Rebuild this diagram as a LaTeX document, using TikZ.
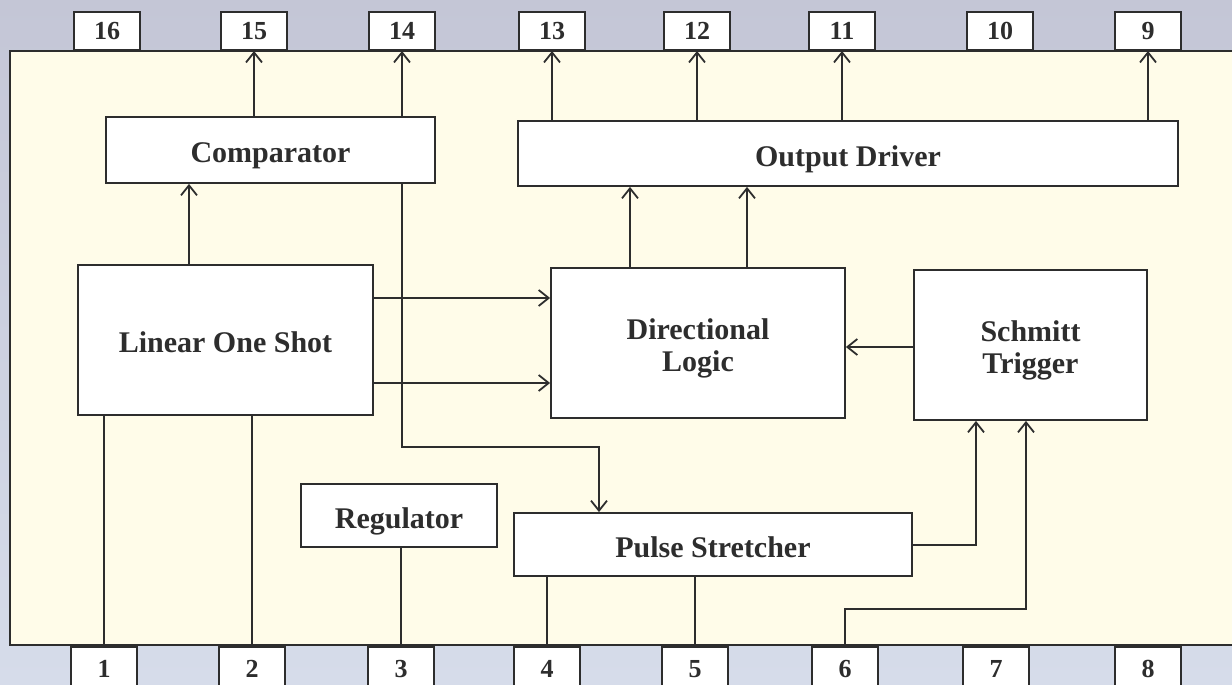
\documentclass[tikz,border=0pt]{standalone}
\usepackage{fontspec}
\setmainfont{Liberation Serif}
\usetikzlibrary{arrows.meta}
\definecolor{bgtop}{RGB}{196,198,214}
\definecolor{bgbot}{RGB}{214,220,234}
\definecolor{cream}{RGB}{255,252,233}
\definecolor{ink}{RGB}{45,45,45}
\tikzset{
  blk/.style={draw=ink, line width=1.8pt, fill=white, inner sep=0pt,
    font=\bfseries\fontsize{30}{32}\selectfont, text=ink, align=center,
    text height=25pt, text depth=0pt},
  blktwo/.style={blk, text height=56pt},
  pintop/.style={draw=ink, line width=1.6pt, fill=white, inner sep=0pt,
    minimum width=66pt, minimum height=38pt, anchor=south,
    font=\bfseries\fontsize{26}{28}\selectfont, text=ink},
  pinbot/.style={draw=ink, line width=1.6pt, fill=white, inner sep=0pt,
    minimum width=66pt, minimum height=44pt, anchor=north,
    font=\bfseries\fontsize{26}{28}\selectfont, text=ink},
  wire/.style={draw=ink, line width=2pt},
  arr/.style={wire, -{Straight Barb[length=10pt,width=16pt,line width=1.8pt]}}
}
\begin{document}
\begin{tikzpicture}[x=1pt,y=-1pt]
\clip (0,0) rectangle (1232,685);
\shade[top color=bgtop, bottom color=bgbot] (0,0) rectangle (1232,685);
% chip body
\draw[draw=ink, line width=2pt, fill=cream] (1260,51) -- (10,51) -- (10,645) -- (1260,645);
% top pins
\node[pintop] (p16) at (107,51) {16};
\node[pintop] (p15) at (254,51) {15};
\node[pintop] (p14) at (402,51) {14};
\node[pintop] (p13) at (552,51) {13};
\node[pintop] (p12) at (697,51) {12};
\node[pintop] (p11) at (842,51) {11};
\node[pintop] (p10) at (1000,51) {10};
\node[pintop] (p9) at (1148,51) {9};
% bottom pins
\node[pinbot] (p1) at (104,646) {1};
\node[pinbot] (p2) at (252,646) {2};
\node[pinbot] (p3) at (401,646) {3};
\node[pinbot] (p4) at (547,646) {4};
\node[pinbot] (p5) at (695,646) {5};
\node[pinbot] (p6) at (845,646) {6};
\node[pinbot] (p7) at (996,646) {7};
\node[pinbot] (p8) at (1148,646) {8};
% blocks
\node[blk, minimum width=329pt, minimum height=66pt] (comp) at (270.5,150) {Comparator};
\node[blk, minimum width=660pt, minimum height=65pt] (od) at (848,153.5) {Output Driver};
\node[blk, minimum width=295pt, minimum height=150pt] (los) at (225.5,340) {Linear One Shot};
\node[blktwo, minimum width=294pt, minimum height=150pt] (dl) at (698,343) {Directional\\Logic};
\node[blktwo, minimum width=233pt, minimum height=150pt] (st) at (1030.5,345) {Schmitt\\Trigger};
\node[blk, minimum width=196pt, minimum height=63pt] (reg) at (399,515.5) {Regulator};
\node[blk, minimum width=398pt, minimum height=63pt] (ps) at (713,544.5) {Pulse Stretcher};
% coordinates
\coordinate (bend) at (599,447);
\coordinate (j6) at (1026,609);
% connectors
\draw[arr] (comp.north -| p15) -- (p15.south);
\draw[arr] (comp.north -| p14) -- (p14.south);
\draw[arr] (comp.south -| p14) |- (bend) -- (bend |- ps.north);
\draw[arr] (los.north -| 189,0) -- (comp.south -| 189,0);
\draw[arr] (los.east |- 0,298) -- (dl.west |- 0,298);
\draw[arr] (los.east |- 0,383) -- (dl.west |- 0,383);
\draw[wire] (los.south -| p1) -- (p1.north);
\draw[wire] (los.south -| p2) -- (p2.north);
\draw[arr] (od.north -| p13) -- (p13.south);
\draw[arr] (od.north -| p12) -- (p12.south);
\draw[arr] (od.north -| p11) -- (p11.south);
\draw[arr] (od.north -| p9) -- (p9.south);
\draw[arr] (dl.north -| 630,0) -- (od.south -| 630,0);
\draw[arr] (dl.north -| 747,0) -- (od.south -| 747,0);
\draw[arr] (st.west |- 0,347) -- (dl.east |- 0,347);
\draw[arr] (ps.east) -| (st.south -| 976,0);
\draw[arr] (p6.north) |- (j6) -- (j6 |- st.south);
\draw[wire] (ps.south -| p4) -- (p4.north);
\draw[wire] (ps.south -| p5) -- (p5.north);
\draw[wire] (reg.south -| p3) -- (p3.north);
\end{tikzpicture}
\end{document}
